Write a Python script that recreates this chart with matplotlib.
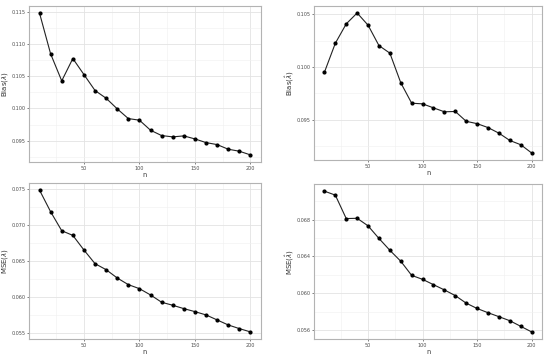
import matplotlib
matplotlib.use("Agg")
import matplotlib.pyplot as plt
from matplotlib.ticker import MultipleLocator, FormatStrFormatter

n = [10, 20, 30, 40, 50, 60, 70, 80, 90, 100,
     110, 120, 130, 140, 150, 160, 170, 180, 190, 200]

bias_left = [0.1148, 0.10847, 0.10428, 0.10775, 0.10526, 0.10278, 0.10158, 0.09993, 0.09842, 0.09817,
             0.09661, 0.09578, 0.09558, 0.09573, 0.09526, 0.09469, 0.09438, 0.09366, 0.09335, 0.09278]
bias_right = [0.0995, 0.10224, 0.10407, 0.1051, 0.10395, 0.10202, 0.10131, 0.09851, 0.09658, 0.09652,
              0.09614, 0.09577, 0.0958, 0.09487, 0.09465, 0.09428, 0.09375, 0.09306, 0.09266, 0.09188]
mse_left = [0.0749, 0.07188, 0.06923, 0.06858, 0.06654, 0.06463, 0.06379, 0.06263, 0.0617, 0.06114,
            0.06026, 0.05924, 0.05882, 0.05835, 0.05793, 0.05747, 0.05677, 0.05607, 0.05556, 0.0551]
mse_right = [0.07109, 0.07066, 0.06811, 0.06814, 0.06732, 0.06595, 0.06466, 0.06347, 0.06193, 0.0615,
             0.06092, 0.06035, 0.05973, 0.05891, 0.05833, 0.05787, 0.05744, 0.057, 0.05639, 0.05578]

BIAS_LABEL = r"Bias$(\hat{\lambda})$"
MSE_LABEL = r"MSE$(\hat{\lambda})$"

# (left, bottom, width, height) in figure fraction, y step, ylabel x (axes fraction)
PANELS = [
    ((0.0527, 0.545, 0.4218, 0.438), bias_left, BIAS_LABEL, 0.005, -0.077),
    ((0.571, 0.5506, 0.4145, 0.4326), bias_right, BIAS_LABEL, 0.005, -0.079),
    ((0.0527, 0.0478, 0.4218, 0.438), mse_left, MSE_LABEL, 0.005, -0.077),
    ((0.571, 0.0478, 0.4145, 0.435), mse_right, MSE_LABEL, 0.004, -0.079),
]


def draw_panel(ax, values, ylabel, ystep, label_x):
    ax.plot(n, values, color="#222222", linewidth=0.8, marker="o",
            markersize=2.0, markerfacecolor="black", markeredgecolor="black")
    ax.margins(x=0.05, y=0.05)
    ax.xaxis.set_major_locator(MultipleLocator(50))
    ax.xaxis.set_minor_locator(MultipleLocator(25))
    ax.yaxis.set_major_locator(MultipleLocator(ystep))
    ax.yaxis.set_minor_locator(MultipleLocator(ystep / 2))
    ax.yaxis.set_major_formatter(FormatStrFormatter("%.3f"))
    ax.grid(which="major", color="#e3e3e3", linewidth=0.6)
    ax.grid(which="minor", color="#f0f0f0", linewidth=0.4)
    ax.set_axisbelow(True)
    for spine in ax.spines.values():
        spine.set_color("#b3b3b3")
        spine.set_linewidth(0.8)
    ax.tick_params(which="major", length=1.5, width=0.5, color="#4d4d4d",
                   labelsize=3.5, labelcolor="#4d4d4d", pad=1.2)
    ax.tick_params(which="minor", length=0)
    ax.set_xlabel("n", fontsize=4.8, labelpad=0.8, color="#333333")
    ax.set_ylabel(ylabel, fontsize=5.0, color="#333333")
    ax.yaxis.set_label_coords(label_x, 0.5)


fig = plt.figure(figsize=(5.5, 3.56), dpi=100)
for rect, values, ylabel, ystep, label_x in PANELS:
    ax = fig.add_axes(rect)
    draw_panel(ax, values, ylabel, ystep, label_x)

fig.savefig("out.png", dpi=100)
